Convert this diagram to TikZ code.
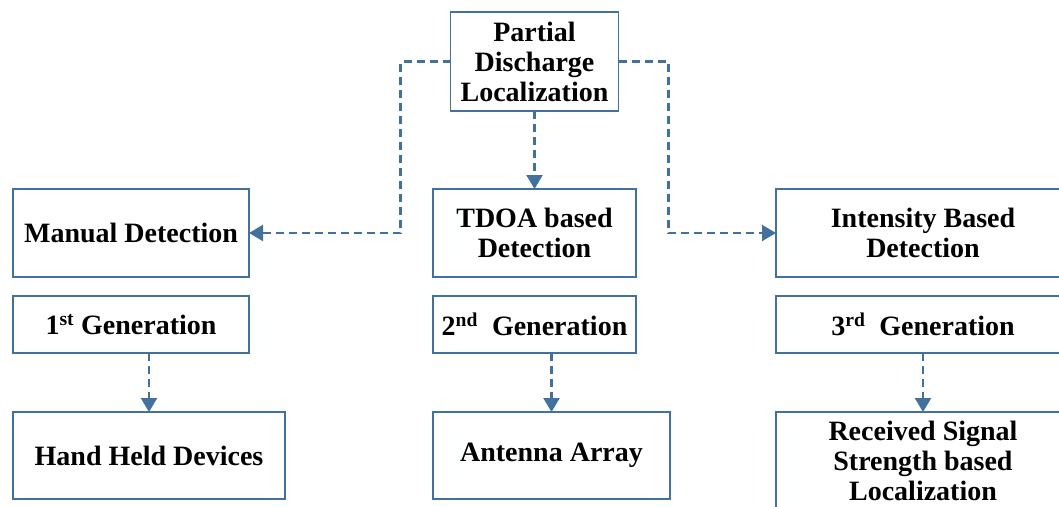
\documentclass[tikz,border=0pt]{standalone}
\usepackage{fontspec}
\setmainfont{Liberation Serif}
\usetikzlibrary{arrows.meta,positioning}
\definecolor{pdblue}{RGB}{65,113,156}

\begin{document}
\begin{tikzpicture}[x=1pt,y=1pt,->,>={Triangle[length=14pt,width=16pt]},
  main node/.style={draw=pdblue,line width=1.9pt,align=center,inner sep=2pt,outer sep=0pt,
    font=\fontsize{28}{30}\selectfont\bfseries,minimum height=88pt},
  gen node/.style={main node,minimum height=57pt},
  link/.style={draw=pdblue,line width=2.4pt,dash pattern=on 8pt off 5pt}]

  \useasboundingbox (0,0) rectangle (1059,-506);

  \node[main node,minimum width=168pt,minimum height=99pt] (1) at (534.5,-61.5) {Partial\\Discharge\\Localization};
  \node[main node,minimum width=203pt] (3) [below=78pt of 1] {TDOA based\\Detection};
  \node[main node,minimum width=236pt] (2) [left=184pt of 3] {Manual Detection};
  \node[main node,minimum width=294pt] (4) [right=140pt of 3] {Intensity Based\\Detection};
  \node[gen node,minimum width=236pt] (5) [below=19pt of 2] {1\textsuperscript{st} Generation};
  \node[gen node,minimum width=203pt] (6) [below=19pt of 3] {2\textsuperscript{nd}\ \ Generation};
  \node[gen node,minimum width=294pt] (7) [below=19pt of 4] {3\textsuperscript{rd}\ \ Generation};
  \node[main node,minimum width=272pt,minimum height=87pt] (8) [below=59pt of 5.south west,anchor=north west] {Hand Held Devices};
  \node[main node,minimum width=237pt,minimum height=87pt] (9) [below=59pt of 6.south west,anchor=north west] {Antenna Array};
  \node[main node,minimum width=294pt,minimum height=98pt] (10) [below=59pt of 7] {Received Signal\\Strength based\\Localization};

  \draw[link] (1.west) -- ++(-50,0) |- (2.east);
  \draw[link] (1.east) -- ++(50,0) |- (4.west);
  \draw[link] (1) -- (3);
  \draw[link] (7) -- (10);
  \draw[link] (8.north |- 5.south) -- (8.north);
  \draw[link] (9.north |- 6.south) -- (9.north);
\end{tikzpicture}
\end{document}
